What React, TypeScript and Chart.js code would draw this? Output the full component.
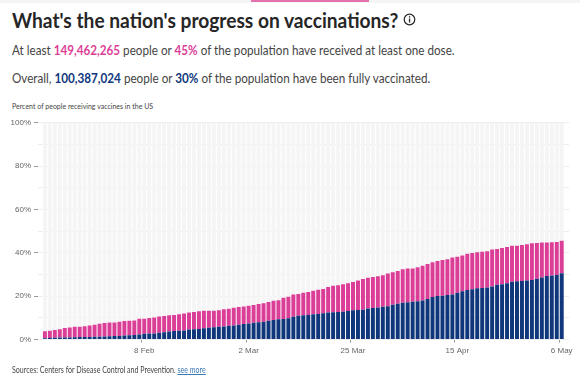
import React, { useEffect, useRef } from "react";
import { Chart, registerables } from "chart.js";

Chart.register(...registerables);

const atLeastOneDose = [
  3.8, 4.0, 4.4, 4.7, 5.3, 5.5, 5.9, 5.9, 6.1, 6.5, 6.8, 7.3, 7.6, 7.8, 7.8, 8.2, 8.5, 8.7, 8.8, 9.6, 9.6, 9.9, 10.1, 10.6, 10.8, 11.2,
  11.3, 11.6, 12.0, 12.4, 12.7, 13.0, 13.3, 13.3, 13.3, 13.5, 14.0, 14.2, 14.7, 15.0, 15.2, 15.6, 15.9, 16.4, 16.7, 17.3, 17.9, 18.1, 19.3, 19.7, 20.7, 21.0,
  21.6, 21.9, 22.5, 23.0, 23.3, 24.2, 24.8, 25.0, 25.5, 25.9, 26.5, 27.2, 27.9, 28.5, 28.8, 29.2, 29.6, 30.4, 31.0, 31.6, 32.4, 32.8, 32.8, 33.3, 34.0, 34.8,
  35.6, 36.2, 36.7, 37.0, 37.8, 38.2, 38.8, 39.5, 39.9, 40.2, 40.5, 40.7, 41.5, 41.8, 42.2, 42.7, 43.2, 43.3, 43.6, 43.9, 44.4, 44.5, 44.7, 44.7, 44.8, 45.0, 45.5,
];

const fullyVaccinated = [
  0.6, 0.7, 0.8, 0.9, 0.9, 0.9, 1.0, 1.1, 1.2, 1.2, 1.3, 1.3, 1.4, 1.5, 1.6, 1.6, 1.8, 2.0, 2.1, 2.3, 2.7, 2.8, 2.8, 3.1, 3.3, 3.7,
  3.9, 4.0, 4.2, 4.6, 4.7, 4.9, 5.2, 5.4, 5.7, 5.9, 6.0, 6.3, 6.5, 6.8, 7.1, 7.4, 7.7, 7.9, 8.2, 8.6, 9.0, 9.3, 9.5, 9.8, 10.5, 10.9,
  11.2, 11.3, 11.6, 11.8, 12.1, 12.4, 12.6, 12.7, 12.8, 13.1, 13.5, 13.6, 13.7, 14.3, 14.5, 14.8, 15.1, 15.3, 16.0, 16.5, 17.0, 17.2, 17.4, 17.7, 18.0, 18.7,
  19.6, 20.1, 20.2, 20.5, 20.8, 21.6, 22.2, 22.8, 23.2, 23.6, 23.8, 24.0, 24.4, 25.2, 25.5, 26.0, 26.6, 26.9, 27.0, 27.2, 27.5, 28.0, 28.6, 29.3, 29.5, 29.7, 30.6,
];

const tickLabels: Record<number, string> = { 20: "8 Feb", 41: "2 Mar", 62: "25 Mar", 83: "15 Apr", 104: "6 May" };
const categories = fullyVaccinated.map((_, i) => tickLabels[i] ?? "");

const PINK = "#DB3E96";
const BLUE = "#10377C";
const STRIPE = "#F5F5F5";
const SANS = "Lato, sans-serif";
const TICK_FONT = "'Liberation Sans', Arial, sans-serif";

export default function App() {
  const ref = useRef<HTMLCanvasElement | null>(null);

  useEffect(() => {
    const shared = { stack: "s", barPercentage: 0.8, categoryPercentage: 1, borderWidth: 0 };
    const chart = new Chart(ref.current!, {
      type: "bar",
      data: {
        labels: categories,
        datasets: [
          { label: "Fully vaccinated", data: fullyVaccinated, backgroundColor: BLUE, ...shared },
          { label: "At least one dose", data: atLeastOneDose.map((v, i) => v - fullyVaccinated[i]), backgroundColor: PINK, ...shared },
          { label: "Remaining", data: atLeastOneDose.map((v) => 100 - v), backgroundColor: STRIPE, ...shared },
        ],
      },
      options: {
        animation: false,
        responsive: false,
        layout: { padding: { left: 0, right: 10.8, top: 122.7, bottom: 10.5 } },
        plugins: { legend: { display: false }, tooltip: { enabled: false } },
        scales: {
          x: {
            stacked: true,
            border: { display: false },
            grid: {
              drawOnChartArea: false,
              tickLength: 3,
              tickColor: (ctx: any) => (tickLabels[ctx.index] ? "#999999" : "rgba(0,0,0,0)"),
            },
            ticks: {
              autoSkip: false,
              maxRotation: 0,
              minRotation: 0,
              padding: 3,
              color: "#666666",
              font: { family: TICK_FONT, size: 8 },
              callback: (_: any, i: number) => tickLabels[i] ?? "",
            },
            afterFit: (s: any) => { s.height = 28; },
          },
          y: {
            stacked: true,
            min: 0,
            max: 100,
            weight: 0,
            border: { display: false },
            grid: { color: "#EEEEEE", tickColor: "#EEEEEE", tickLength: 4.4, lineWidth: 1 },
            ticks: { stepSize: 10, display: false },
            afterFit: (s: any) => { s.width = 4.4; },
          },
          yLabels: {
            position: "left",
            min: 0,
            max: 100,
            weight: 1,
            border: { display: false },
            grid: { drawOnChartArea: false, tickColor: "#999999", tickLength: 4 },
            ticks: {
              stepSize: 20,
              padding: 3,
              color: "#666666",
              font: { family: TICK_FONT, size: 8 },
              callback: (v: any) => `${v}%`,
            },
            afterFit: (s: any) => { s.width = 38; },
          },
          yRight: {
            position: "right",
            min: 0,
            max: 100,
            border: { display: false },
            grid: { drawOnChartArea: false, tickColor: "#EEEEEE", tickLength: 5 },
            ticks: { stepSize: 10, display: false },
            afterFit: (s: any) => { s.width = 5; },
          },
        },
      } as any,
    });
    return () => chart.destroy();
  }, []);

  const abs = (left: number, top: number, squeeze: number, extra: React.CSSProperties): React.CSSProperties => ({
    position: "absolute",
    left,
    top,
    whiteSpace: "nowrap",
    fontFamily: SANS,
    transform: `scaleX(${squeeze})`,
    transformOrigin: "left center",
    ...extra,
  });

  return (
    <div style={{ position: "fixed", left: 0, top: 0, width: 580, height: 378, background: "#fff", overflow: "hidden" }}>
      <div style={{ position: "absolute", left: 0, top: 0, width: 580, height: 3, background: "#F5F5F5" }} />
      <div style={{ position: "absolute", left: 251, top: 0, width: 118, height: 2, background: "#E273AE" }} />
      <div style={abs(12, 6, 0.913, { fontSize: 21, fontWeight: 700, color: "#262626", lineHeight: "28px" })}>
        What's the nation's progress on vaccinations?
      </div>
      <svg style={{ position: "absolute", left: 403, top: 13 }} width="13" height="13" viewBox="0 0 13 13">
        <circle cx="6.5" cy="6.5" r="5.3" fill="none" stroke="#262626" strokeWidth="1.2" />
        <rect x="5.9" y="5.5" width="1.3" height="4" fill="#262626" />
        <rect x="5.9" y="3.2" width="1.3" height="1.3" fill="#262626" />
      </svg>
      <div style={abs(12, 40, 0.865, { fontSize: 13.5, color: "#444444", lineHeight: "20px" })}>
        At least <b style={{ color: PINK, fontWeight: 700 }}>149,462,265</b> people or{" "}
        <b style={{ color: PINK, fontWeight: 700 }}>45%</b> of the population have received at least one dose.
      </div>
      <div style={abs(12, 68, 0.865, { fontSize: 13.5, color: "#444444", lineHeight: "20px" })}>
        Overall, <b style={{ color: BLUE, fontWeight: 700 }}>100,387,024</b> people or{" "}
        <b style={{ color: BLUE, fontWeight: 700 }}>30%</b> of the population have been fully vaccinated.
      </div>
      <div style={abs(12, 100, 0.875, { fontSize: 8, color: "#444444", lineHeight: "12px" })}>
        Percent of people receiving vaccines in the US
      </div>
      <canvas ref={ref} width={580} height={378} style={{ position: "absolute", left: 0, top: 0, width: 580, height: 378 }} />
      <div style={abs(12, 364, 0.83, { fontSize: 8.5, color: "#444444", lineHeight: "12px" })}>
        Sources: Centers for Disease Control and Prevention.{" "}
        <a style={{ color: "#3B78B8", textDecoration: "underline" }}>see more</a>
      </div>
    </div>
  );
}
